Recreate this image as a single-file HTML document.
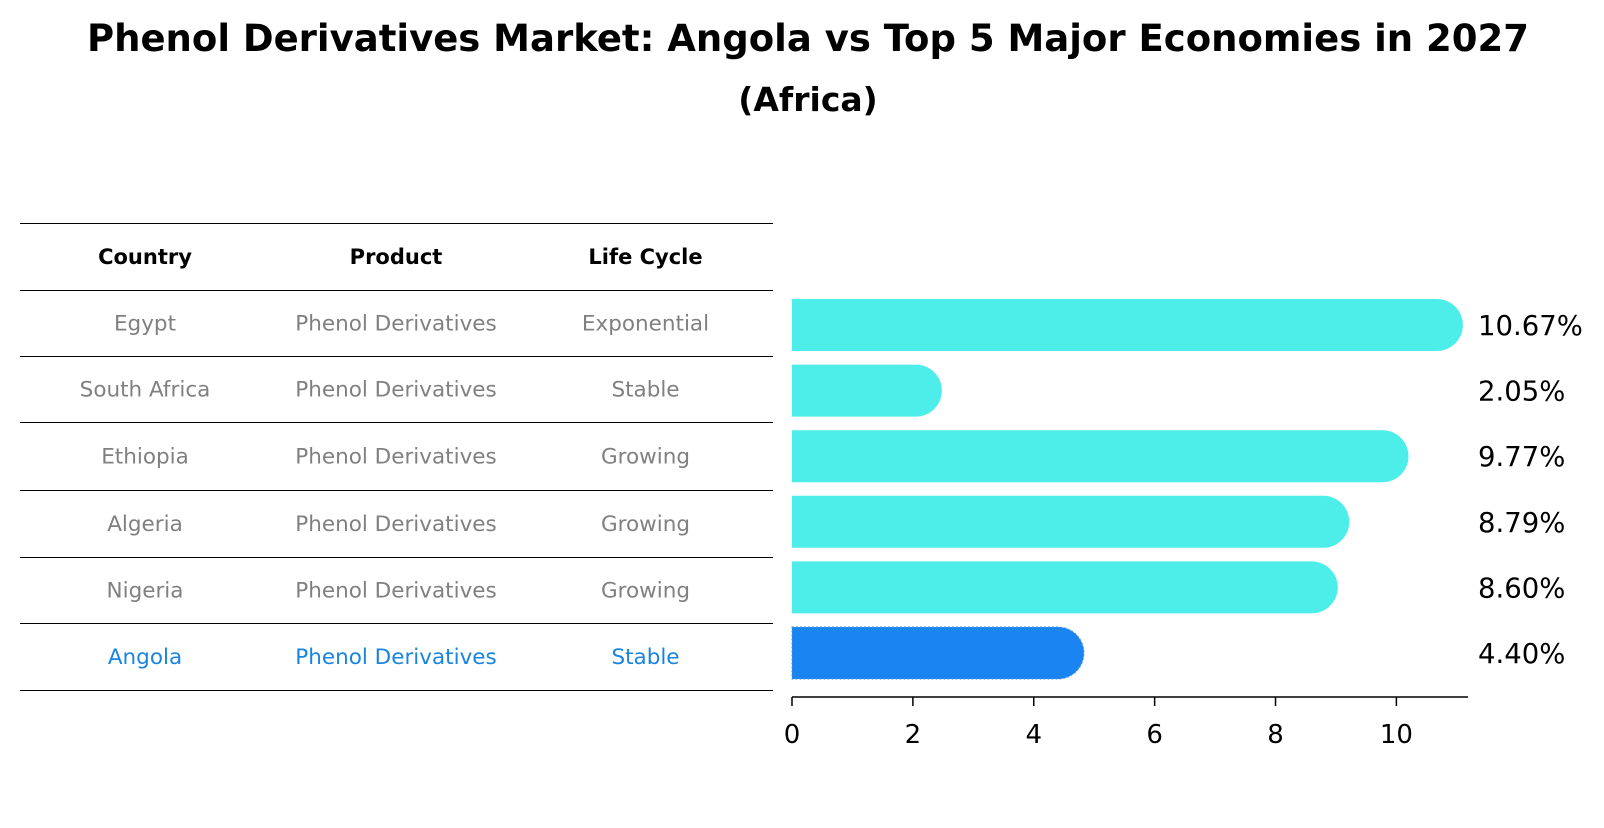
<!DOCTYPE html>
<html><head><meta charset="utf-8"><style>
body{margin:0;background:#fff;width:1604px;height:823px;overflow:hidden;font-family:"Liberation Sans","DejaVu Sans",sans-serif}
</style></head><body>
<svg width="1604" height="823" xmlns="http://www.w3.org/2000/svg" font-family="DejaVu Sans, Liberation Sans, sans-serif">
<text x="808" y="51" text-anchor="middle" font-size="37" font-weight="bold">Phenol Derivatives Market: Angola vs Top 5 Major Economies in 2027</text>
<text x="808" y="111" text-anchor="middle" font-size="33" font-weight="bold">(Africa)</text>
<g id="table"></g>
<g id="bars"></g>
</svg>
<script>
const countries=["Egypt","South Africa","Ethiopia","Algeria","Nigeria","Angola"];
const products=["Phenol Derivatives","Phenol Derivatives","Phenol Derivatives","Phenol Derivatives","Phenol Derivatives","Phenol Derivatives"];
const lifecycle=["Exponential","Stable","Growing","Growing","Growing","Stable"];
const values=[10.67,2.05,9.77,8.79,8.60,4.40];
const ticks=[0,2,4,6,8,10];
const NS="http://www.w3.org/2000/svg";
function mk(t,a,p){const e=document.createElementNS(NS,t);for(const k in a)e.setAttribute(k,a[k]);p.appendChild(e);return e;}
const tb=document.getElementById('table');
const lineYs=[223,290,356,422,490,557,623,690];
lineYs.forEach(y=>{const l=mk('line',{x1:20,x2:773,y1:y+0.5,y2:y+0.5,stroke:'#000','stroke-width':1},tb);

});
const cx=[145,396,645.5];
["Country","Product","Life Cycle"].forEach((h,i)=>{const t=mk('text',{x:cx[i],y:264,'text-anchor':'middle','font-size':21,'font-weight':'bold'},tb);t.textContent=h;

});
countries.forEach((c,r)=>{const y=(lineYs[r+1]+lineYs[r+2])/2+7.5;const col=r===countries.length-1?'#1a85e0':'#808080';
[c,products[r],lifecycle[r]].forEach((v,i)=>{const t=mk('text',{x:cx[i],y:y,'text-anchor':'middle','font-size':21.5,fill:col},tb);t.textContent=v;

});});
const g=document.getElementById('bars');
const x0=792,unit=60.44;const X=v=>x0+v*unit;
const Y=i=>325+i*65.6;const h=52,rr=26;
values.forEach((v,i)=>{const isA=i===values.length-1;const col=isA?'#1a85f0':'#4deeea';
const xe=X(v);
const p=mk('path',{d:`M${x0},${Y(i)-h/2} H${xe} A${rr},${rr} 0 0 1 ${xe},${Y(i)+h/2} H${x0} Z`,fill:col},g);
if(isA){p.setAttribute('stroke','#4a90e2');p.setAttribute('stroke-dasharray','2,2');}


const t=mk('text',{x:1478,y:Y(i)+10,'font-size':27.5},g);t.textContent=v.toFixed(2)+'%';

});
const ax=mk('line',{x1:x0,x2:1468,y1:697,y2:697,stroke:'#000','stroke-width':1.5},g);


ticks.forEach(t=>{const l=mk('line',{x1:X(t),x2:X(t),y1:697,y2:706,stroke:'#000','stroke-width':1.5},g);


const tx=mk('text',{x:X(t),y:743,'text-anchor':'middle','font-size':26},g);tx.textContent=t;

});
</script>
</body></html>
